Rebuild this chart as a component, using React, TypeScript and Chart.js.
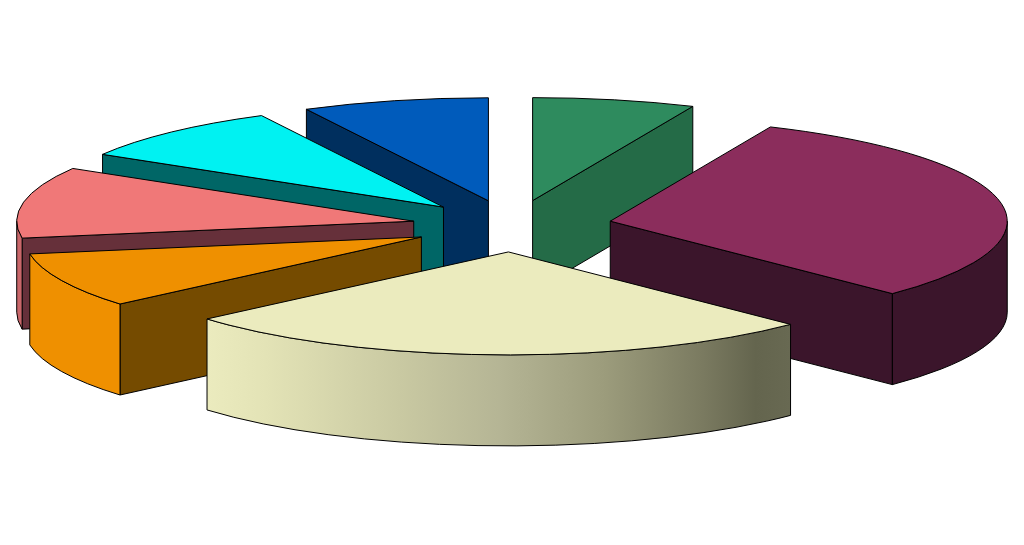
import { useEffect, useRef } from "react";
import { Chart, registerables } from "chart.js";

Chart.register(...registerables);

// clockwise from 12 o'clock, share of the pie in percent (no labels in the picture)
const slices = ["green", "purple", "cream", "orange", "red", "cyan", "blue"];
const shares = [6.61, 30.81, 26.3, 8.65, 11.19, 8.86, 7.58];

const topColors = ["#2E8B5E", "#8B2D5C", "#EBEBBE", "#EF9000", "#F07878", "#00F2F2", "#005BBB"];
const wallColors = ["#246B47", "#3B152B", "#EBEBBE", "#754B00", "#66303A", "#006666", "#002F5E"];
const rimColors = ["#246B47", "#3B152B", "", "#EF9000", "#C9676A", "#006666", "#002F5E"];

// the cream rim is shaded from left to right
const creamStops: [number, string][] = [
  [0, "#EBEBBE"],
  [0.1, "#E3E3B6"],
  [0.33, "#C9C9A2"],
  [0.5, "#B5B595"],
  [0.68, "#9C9C7C"],
  [0.85, "#7A7A60"],
  [0.94, "#64654E"],
  [1, "#686952"],
];

const RADIUS = 397;
const SQUASH = 0.2594;
const DEPTH = 91;
const EXPLODE = 100;
const CENTER_Y = 226;

const pie3d = {
  id: "pie3d",
  beforeDatasetsDraw(chart: Chart) {
    const ctx = chart.ctx;
    const arcs = chart.getDatasetMeta(0).data as any[];
    const order = arcs
      .map((_, i) => i)
      .sort((a, b) => {
        const mid = (arc: any) => (arc.startAngle + arc.endAngle) / 2;
        return Math.sin(mid(arcs[a])) - Math.sin(mid(arcs[b]));
      });

    ctx.lineWidth = 1;
    ctx.lineJoin = "round";
    ctx.strokeStyle = "#000";

    for (const i of order) {
      const arc = arcs[i];
      const { startAngle: s, endAngle: e, outerRadius: r } = arc;
      const mid = (s + e) / 2;
      const ax = arc.x + Math.cos(mid) * EXPLODE;
      const ay = CENTER_Y + Math.sin(mid) * EXPLODE * SQUASH;
      const px = (t: number) => ax + Math.cos(t) * r;
      const py = (t: number) => ay + Math.sin(t) * r * SQUASH;

      const face = (paint: () => void) => {
        ctx.beginPath();
        paint();
        ctx.closePath();
        ctx.fill();
        ctx.stroke();
      };

      // cut faces, only those turned to the viewer
      ctx.fillStyle = wallColors[i];
      const cut = (t: number) =>
        face(() => {
          ctx.moveTo(ax, ay);
          ctx.lineTo(px(t), py(t));
          ctx.lineTo(px(t), py(t) + DEPTH);
          ctx.lineTo(ax, ay + DEPTH);
        });
      if (Math.cos(s) < 0) cut(s);
      if (Math.cos(e) > 0) cut(e);

      // outer rim, front half of the ellipse only
      for (const shift of [0, Math.PI * 2]) {
        const t0 = Math.max(s, shift);
        const t1 = Math.min(e, shift + Math.PI);
        if (t1 <= t0) continue;
        if (rimColors[i]) {
          ctx.fillStyle = rimColors[i];
        } else {
          const grad = ctx.createLinearGradient(px(t1), 0, px(t0), 0);
          creamStops.forEach(([at, color]) => grad.addColorStop(at, color));
          ctx.fillStyle = grad;
        }
        face(() => {
          ctx.ellipse(ax, ay, r, r * SQUASH, 0, t0, t1);
          ctx.lineTo(px(t1), py(t1) + DEPTH);
          ctx.ellipse(ax, ay + DEPTH, r, r * SQUASH, 0, t1, t0, true);
        });
      }

      // top face is the library's own arc, flattened and pushed out
      ctx.save();
      ctx.translate(ax, ay);
      ctx.scale(1, SQUASH);
      ctx.translate(-arc.x, -arc.y);
      arc.draw(ctx);
      ctx.restore();

      ctx.beginPath();
      ctx.moveTo(ax, ay);
      ctx.ellipse(ax, ay, r, r * SQUASH, 0, s, e);
      ctx.closePath();
      ctx.stroke();
    }
    return false;
  },
};

export default function App() {
  const ref = useRef<HTMLCanvasElement>(null);
  useEffect(() => {
    if (!ref.current) return;
    const chart = new Chart(ref.current, {
      type: "pie",
      data: {
        labels: slices,
        datasets: [
          {
            data: shares,
            backgroundColor: topColors,
            borderWidth: 0,
            radius: RADIUS,
          } as any,
        ],
      },
      options: {
        animation: false,
        responsive: false,
        plugins: { legend: { display: false }, tooltip: { enabled: false } },
      },
      plugins: [pie3d],
    });
    return () => chart.destroy();
  }, []);
  return (
    <div style={{ position: "absolute", left: 0, top: 0, width: 1024, height: 545, background: "#fff" }}>
      <canvas ref={ref} width={1024} height={545} style={{ display: "block" }} />
    </div>
  );
}
